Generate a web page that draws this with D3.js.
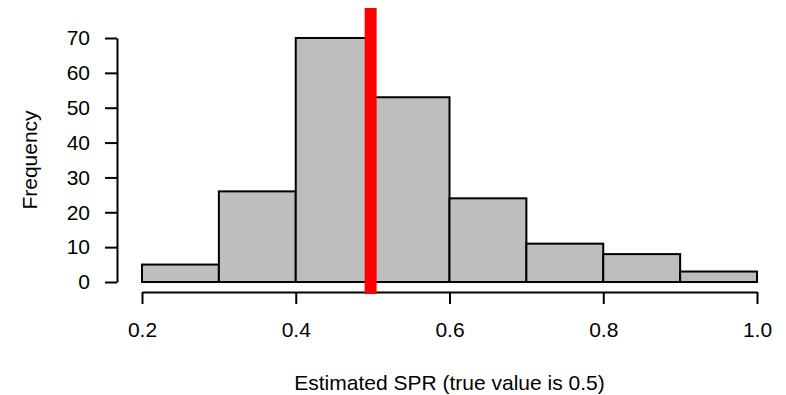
<!DOCTYPE html>
<html>
<head>
<meta charset="utf-8">
<script src="https://cdn.jsdelivr.net/npm/d3@7"></script>
<style>
  body { margin: 0; background: #fff; }
  text { font-family: "Liberation Sans", Arial, sans-serif; fill: #000; }
</style>
</head>
<body>
<svg width="786" height="395"></svg>
<script>
const binStarts = [0.2, 0.3, 0.4, 0.5, 0.6, 0.7, 0.8, 0.9];
const counts = [5, 26, 70, 53, 24, 11, 8, 3];
const xTicks = [0.2, 0.4, 0.6, 0.8, 1.0];
const yTicks = [0, 10, 20, 30, 40, 50, 60, 70];
const trueValue = 0.5;

const svg = d3.select('svg');
const fontSize = 21;

const xScale = d3.scaleLinear().domain([0.2, 1.0]).range([142, 757]);
const yScale = d3.scaleLinear().domain([0, 70]).range([282, 38]);

const data = binStarts.map((b, i) => ({ x0: b, x1: +(b + 0.1).toFixed(1), n: counts[i] }));

// bars
svg.append('g').selectAll('rect').data(data)
  .enter().append('rect')
    .attr('x', d => xScale(d.x0))
    .attr('y', d => yScale(d.n))
    .attr('width', d => xScale(d.x1) - xScale(d.x0))
    .attr('height', d => yScale(0) - yScale(d.n))
    .attr('fill', '#bebebe')
    .attr('stroke', '#000')
    .attr('stroke-width', 2);

// y axis
const yAxis = d3.axisLeft(yScale)
  .tickValues(yTicks)
  .tickSize(12)
  .tickSizeOuter(0)
  .tickPadding(15);
const yAxisG = svg.append('g')
  .attr('transform', 'translate(117,0)')
  .call(yAxis);
yAxisG.attr('font-size', fontSize).attr('font-family', null);
yAxisG.select('.domain').attr('stroke-width', 2);
yAxisG.selectAll('.tick line').attr('stroke-width', 2);

// x axis
const xAxis = d3.axisBottom(xScale)
  .tickValues(xTicks)
  .tickFormat(d3.format('.1f'))
  .tickSize(12)
  .tickSizeOuter(0)
  .tickPadding(18);
const xAxisG = svg.append('g')
  .attr('transform', 'translate(0,292)')
  .call(xAxis);
xAxisG.attr('font-size', fontSize).attr('font-family', null);
xAxisG.select('.domain').attr('stroke-width', 2);
xAxisG.selectAll('.tick line').attr('stroke-width', 2);

// red line at true value
svg.append('line')
  .attr('x1', xScale(trueValue) - 2)
  .attr('x2', xScale(trueValue) - 2)
  .attr('y1', 8)
  .attr('y2', 294)
  .attr('stroke', '#ff0000')
  .attr('stroke-width', 12);

// axis labels
svg.append('text')
  .attr('x', (xScale(0.2) + xScale(1.0)) / 2)
  .attr('y', 390)
  .attr('text-anchor', 'middle')
  .attr('font-size', fontSize)
  .text('Estimated SPR (true value is 0.5)');

svg.append('text')
  .attr('transform', 'translate(37,160) rotate(-90)')
  .attr('text-anchor', 'middle')
  .attr('font-size', fontSize)
  .text('Frequency');
</script>
</body>
</html>
